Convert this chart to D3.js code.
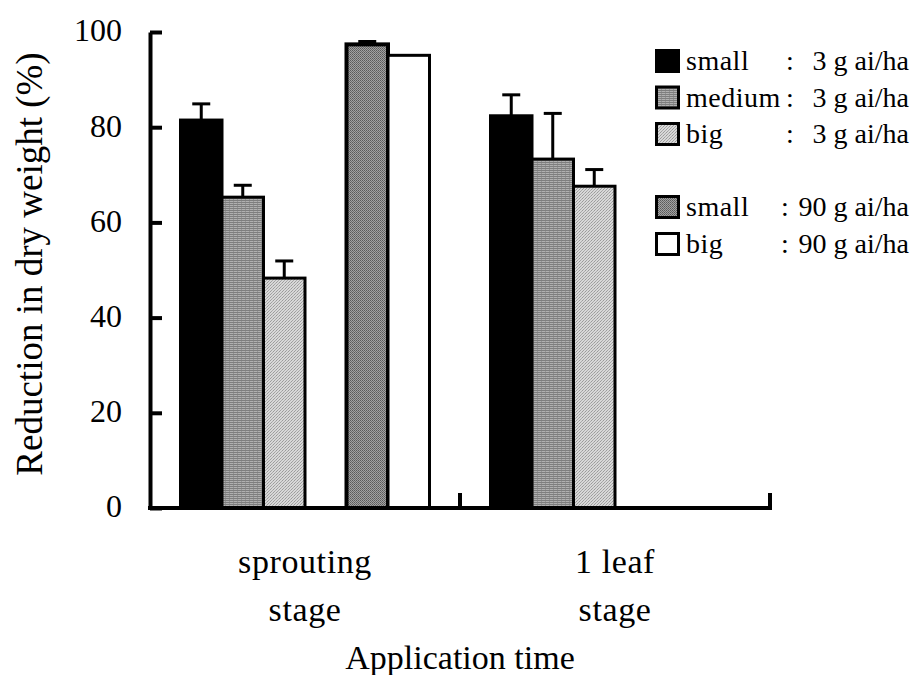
<!DOCTYPE html>
<html>
<head>
<meta charset="utf-8">
<script src="https://cdn.jsdelivr.net/npm/d3@7"></script>
<style>
  html, body { margin: 0; padding: 0; background: #fff; }
  svg { display: block; }
  svg text { font-family: "Liberation Serif", "Times New Roman", serif !important; fill: #000; }
</style>
</head>
<body>
<svg id="chart" width="914" height="675"></svg>
<script>
// Application stages on the x axis, each with its own two-line label
const stages = ["sprouting stage", "1 leaf stage"];
const stageLines = [["sprouting", "stage"], ["1 leaf", "stage"]];

// Bar slots inside a stage group; "gap" is an empty slot between the two rates
const slots = ["small3", "medium3", "big3", "gap", "small90", "big90"];

// Reduction in dry weight (%) per stage; null = not tested
const small3 = [81.5, 82.4];
const medium3 = [65.3, 73.3];
const big3 = [48.3, 67.6];
const small90 = [97.4, null];
const big90 = [95.1, null];

// Upper error bars (same units)
const small3Err = [3.4, 4.4];
const medium3Err = [2.5, 9.6];
const big3Err = [3.6, 3.5];
const small90Err = [0.6, null];
const big90Err = [null, null];

// Y ticks
const yTicks = [0, 20, 40, 60, 80, 100];

// Legend entries
const legendSeries = ["small3", "medium3", "big3", "small90", "big90"];
const legendNames = ["small", "medium", "big", "small", "big"];
const legendRates = ["3 g ai/ha", "3 g ai/ha", "3 g ai/ha", "90 g ai/ha", "90 g ai/ha"];

const seriesValues = { small3, medium3, big3, small90, big90 };
const seriesErrors = { small3: small3Err, medium3: medium3Err, big3: big3Err, small90: small90Err, big90: big90Err };

const svg = d3.select("#chart");
const defs = svg.append("defs");

// Fill textures
const pMed = defs.append("pattern").attr("id", "texMedium").attr("patternUnits", "userSpaceOnUse")
  .attr("width", 4).attr("height", 2);
pMed.append("rect").attr("width", 4).attr("height", 2).attr("fill", "#b0b0b0");
pMed.append("rect").attr("width", 4).attr("height", 1).attr("fill", "#7e7e7e");
pMed.append("rect").attr("x", 1).attr("y", 1).attr("width", 1).attr("height", 1).attr("fill", "#949494");

const pBig = defs.append("pattern").attr("id", "texBig").attr("patternUnits", "userSpaceOnUse")
  .attr("width", 3).attr("height", 3);
pBig.append("rect").attr("width", 3).attr("height", 3).attr("fill", "#d8d8d8");
pBig.append("rect").attr("x", 0).attr("y", 0).attr("width", 1).attr("height", 1).attr("fill", "#9a9a9a");
pBig.append("rect").attr("x", 2).attr("y", 1).attr("width", 1).attr("height", 1).attr("fill", "#acacac");
pBig.append("rect").attr("x", 1).attr("y", 2).attr("width", 1).attr("height", 1).attr("fill", "#a2a2a2");

const pS90 = defs.append("pattern").attr("id", "texSmall90").attr("patternUnits", "userSpaceOnUse")
  .attr("width", 2).attr("height", 2);
pS90.append("rect").attr("width", 2).attr("height", 2).attr("fill", "#a2a2a2");
pS90.append("rect").attr("x", 0).attr("y", 0).attr("width", 1).attr("height", 1).attr("fill", "#5a5a5a");
pS90.append("rect").attr("x", 1).attr("y", 1).attr("width", 1).attr("height", 1).attr("fill", "#6c6c6c");

const fills = {
  small3: "#000",
  medium3: "url(#texMedium)",
  big3: "url(#texBig)",
  small90: "url(#texSmall90)",
  big90: "#fff"
};

// Scales
const y = d3.scaleLinear().domain([0, 100]).range([508, 32]);
const x0 = d3.scaleBand().domain(stages).range([150, 770]).padding(0);
const x1 = d3.scaleBand().domain(slots).range([0, x0.bandwidth()]).paddingInner(0).paddingOuter(0.735);

// Bars
const barData = [];
stages.forEach((s, i) => {
  legendSeries.forEach(k => {
    const v = seriesValues[k][i];
    if (v != null) barData.push({ stage: s, key: k, value: v, err: seriesErrors[k][i] });
  });
});

const bars = svg.append("g");
bars.selectAll("rect").data(barData).join("rect")
  .attr("x", d => x0(d.stage) + x1(d.key))
  .attr("y", d => y(d.value))
  .attr("width", x1.bandwidth())
  .attr("height", d => y(0) - y(d.value))
  .attr("fill", d => fills[d.key])
  .attr("stroke", "#000")
  .attr("stroke-width", d => d.key === "small90" ? 4 : 3);

// Upper error bars
const errs = svg.append("g").attr("stroke", "#000").attr("stroke-width", 3);
const errData = barData.filter(d => d.err != null);
errs.selectAll("line.stem").data(errData).join("line").attr("class", "stem")
  .attr("x1", d => x0(d.stage) + x1(d.key) + x1.bandwidth() / 2)
  .attr("x2", d => x0(d.stage) + x1(d.key) + x1.bandwidth() / 2)
  .attr("y1", d => y(d.value))
  .attr("y2", d => y(d.value + d.err));
errs.selectAll("line.cap").data(errData).join("line").attr("class", "cap")
  .attr("x1", d => x0(d.stage) + x1(d.key) + x1.bandwidth() / 2 - 9)
  .attr("x2", d => x0(d.stage) + x1(d.key) + x1.bandwidth() / 2 + 9)
  .attr("y1", d => y(d.value + d.err))
  .attr("y2", d => y(d.value + d.err));

// Y axis: ticks point into the plot
const yAxis = svg.append("g").attr("transform", "translate(150,0)")
  .call(d3.axisLeft(y).tickValues(yTicks).tickSizeInner(-12).tickSizeOuter(0).tickPadding(28));
yAxis.attr("font-family", null);
yAxis.select(".domain").attr("stroke", "#000").attr("stroke-width", 4);
yAxis.selectAll(".tick line").attr("stroke", "#000").attr("stroke-width", 4);
yAxis.selectAll(".tick text").attr("font-size", 32).attr("dy", "0.28em");

// X axis baseline with upward tick marks at group boundaries
const xAxis = svg.append("g").attr("stroke", "#000").attr("stroke-width", 4);
xAxis.append("line")
  .attr("x1", x0.range()[0] - 2).attr("x2", x0.range()[1] + 2)
  .attr("y1", y(0)).attr("y2", y(0));
xAxis.selectAll("line.sep").data(stages).join("line").attr("class", "sep")
  .attr("x1", d => x0(d) + x0.bandwidth()).attr("x2", d => x0(d) + x0.bandwidth())
  .attr("y1", y(0)).attr("y2", y(0) - 15);

// Stage labels
const catG = svg.append("g").attr("font-size", 34).attr("text-anchor", "middle")
  .attr("letter-spacing", "0.6px");
stages.forEach((s, i) => {
  stageLines[i].forEach((line, j) => {
    catG.append("text")
      .attr("x", x0(s) + x0.bandwidth() / 2)
      .attr("y", 573 + j * 48)
      .text(line);
  });
});

// Axis titles
svg.append("text")
  .attr("x", (x0.range()[0] + x0.range()[1]) / 2)
  .attr("y", 669)
  .attr("text-anchor", "middle").attr("font-size", 34)
  .text("Application time");

svg.append("text")
  .attr("transform", "translate(42,264) rotate(-90)")
  .attr("text-anchor", "middle").attr("font-size", 37)
  .text("Reduction in dry weight (%)");

// Legend
const legendRows = [61, 97.5, 134, 207, 244];
const leg = svg.append("g").attr("font-size", 28);
legendSeries.forEach((k, i) => {
  const cy = legendRows[i];
  leg.append("rect")
    .attr("x", 656.5).attr("y", cy - 10.5).attr("width", 22).attr("height", 21)
    .attr("fill", fills[k]).attr("stroke", "#000").attr("stroke-width", 3);
  leg.append("text").attr("x", 686).attr("y", cy + 9).attr("letter-spacing", "0.5px").text(legendNames[i]);
  leg.append("text").attr("x", i < 3 ? 786 : 781).attr("y", cy + 9).text(":");
  leg.append("text").attr("x", 909).attr("y", cy + 9).attr("text-anchor", "end").text(legendRates[i]);
});
</script>
</body>
</html>
